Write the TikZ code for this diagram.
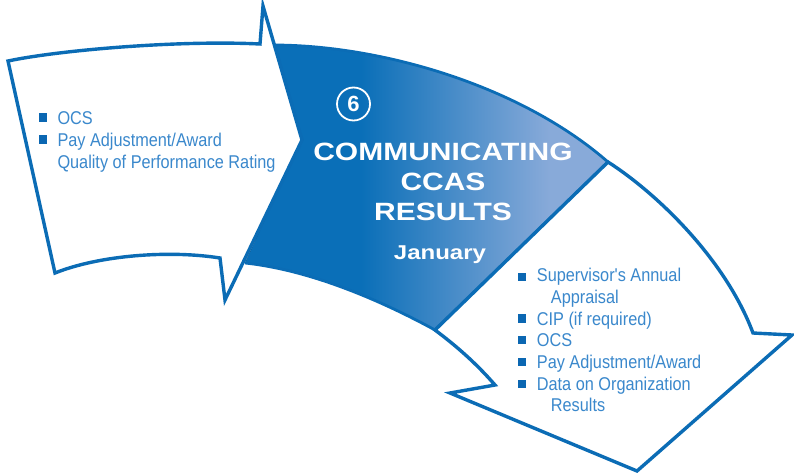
\documentclass[tikz,border=0pt]{standalone}
\usepackage{fontspec}
\setmainfont{Liberation Sans}
\newfontfamily\itemfont[FakeStretch=0.88]{Liberation Sans}
\newfontfamily\titlefont[FakeStretch=1.2]{Liberation Sans}
\definecolor{outblue}{HTML}{0B6CB5}
\definecolor{banddark}{HTML}{0A6FB8}
\definecolor{bandlight}{HTML}{88AAD9}
\definecolor{textblue}{HTML}{3A88CC}
\definecolor{bulletblue}{HTML}{0B67B2}
\pgfdeclarehorizontalshading{bandshade}{100bp}{color(0bp)=(banddark); color(41bp)=(banddark); color(67bp)=(bandlight); color(100bp)=(bandlight)}
\tikzset{
  outline/.style={draw=outblue, line width=3.4pt, line join=miter},
  itemtext/.style={anchor=base west, inner sep=0pt, text=textblue, font=\itemfont\fontsize{18.5}{22}\selectfont},
  bulletsq/.style={fill=bulletblue},
  titletext/.style={anchor=base, inner sep=0pt, text=white, font=\titlefont\bfseries\fontsize{25}{30}\selectfont},
  monthtext/.style={anchor=base, inner sep=0pt, text=white, font=\titlefont\bfseries\fontsize{20}{24}\selectfont},
}
\begin{document}
\begin{tikzpicture}[x=1pt,y=-1pt]
\useasboundingbox (0,0) rectangle (794,474);
% central band
\fill[shading=bandshade] (273,45) .. controls (380,45) and (520,85) .. (608,162)
  -- (435,330) .. controls (380,300) and (310,270) .. (245,263) -- (302,140) -- cycle;
\draw[outline, line width=2.8pt] (273,45) .. controls (380,45) and (520,85) .. (608,162)
  -- (435,330) .. controls (380,300) and (310,270) .. (245,263);
% left arrow
\draw[outline, fill=white] (8,61) .. controls (60,50) and (180,40) .. (260,44)
  -- (263,6) -- (302,140) -- (225,300) -- (220,258)
  .. controls (170,250) and (100,255) .. (55,273) -- cycle;
% right arrow
\draw[outline, fill=white] (608,162) .. controls (655,192) and (725,258) .. (753,333)
  -- (792,335) -- (637,471) -- (450,393) -- (495,385)
  .. controls (475,362) and (455,345) .. (435,330) -- cycle;
% step number
\node[circle, draw=white, line width=1.8pt, minimum size=33pt, inner sep=0pt, text=white,
  font=\bfseries\fontsize{22}{22}\selectfont] (num) at (353.5,104) {6};
% title
\node[titletext] (t1) at (443,160.5) {COMMUNICATING};
\node[titletext] (t2) at (443,190) {CCAS};
\node[titletext] (t3) at (443,220.5) {RESULTS};
\node[monthtext] (t4) at (440,259.5) {January};
% left items
\fill[bulletsq] (39.3,113.3) rectangle (47.3,121.7);
\fill[bulletsq] (39.3,135.3) rectangle (47.3,143.7);
\node[itemtext] (l1) at (57.3,124) {OCS};
\node[itemtext] (l2) at (57.3,146) {Pay Adjustment/Award};
\node[itemtext] (l3) at (57.3,168) {Quality of Performance Rating};
% right items
\fill[bulletsq] (517.5,272.7) rectangle (526,280.9);
\fill[bulletsq] (517.5,314.4) rectangle (526,322.6);
\fill[bulletsq] (517.5,336.1) rectangle (526,344.3);
\fill[bulletsq] (517.5,357.8) rectangle (526,366);
\fill[bulletsq] (517.5,379.5) rectangle (526,387.7);
\node[itemtext] (r1) at (536.7,281.7) {Supervisor's Annual};
\node[itemtext] (r2) at (550.7,303.4) {Appraisal};
\node[itemtext] (r3) at (536.7,325.1) {CIP (if required)};
\node[itemtext] (r4) at (536.7,346.8) {OCS};
\node[itemtext] (r5) at (536.7,368.5) {Pay Adjustment/Award};
\node[itemtext] (r6) at (536.7,390.2) {Data on Organization};
\node[itemtext] (r7) at (550.7,411.9) {Results};
\end{tikzpicture}
\end{document}
